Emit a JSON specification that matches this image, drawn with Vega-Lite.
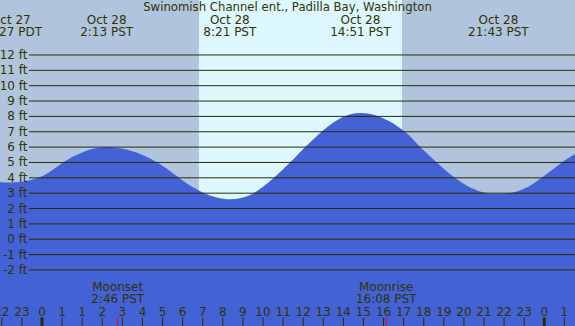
{
  "$schema": "https://vega.github.io/schema/vega-lite/v6.json",
  "width": 575,
  "height": 326,
  "padding": 0,
  "autosize": {"type": "none"},
  "background": "#b0c4de",
  "config": {"view": {"stroke": null}, "axis": {"disable": true}, "text": {"font": "DejaVu Sans", "fontSize": 12, "color": "#333300"}},
  "datasets": {
    "light": [
      {"start": -2.2, "end": 7.81, "phase": "night"},
      {"start": 7.81, "end": 17.92, "phase": "day"},
      {"start": 17.92, "end": 26.7, "phase": "night"}
    ],
    "tide": [
      {"t": -2.2, "h": 3.72}, {"t": -1.55, "h": 3.7}, {"t": -1.0, "h": 3.75}, {"t": -0.5, "h": 3.88},
      {"t": 0.0, "h": 4.1}, {"t": 0.5, "h": 4.5}, {"t": 1.0, "h": 4.95}, {"t": 1.5, "h": 5.35},
      {"t": 2.0, "h": 5.65}, {"t": 2.5, "h": 5.87}, {"t": 3.22, "h": 6.0}, {"t": 3.7, "h": 5.96},
      {"t": 4.2, "h": 5.85}, {"t": 4.7, "h": 5.65}, {"t": 5.2, "h": 5.38}, {"t": 5.7, "h": 5.03},
      {"t": 6.2, "h": 4.6}, {"t": 6.7, "h": 4.12}, {"t": 7.2, "h": 3.65}, {"t": 7.7, "h": 3.25},
      {"t": 8.2, "h": 2.93}, {"t": 8.7, "h": 2.72}, {"t": 9.35, "h": 2.6}, {"t": 9.9, "h": 2.68},
      {"t": 10.5, "h": 2.98}, {"t": 11.0, "h": 3.42}, {"t": 11.5, "h": 3.95}, {"t": 12.0, "h": 4.55},
      {"t": 12.5, "h": 5.2}, {"t": 13.0, "h": 5.88}, {"t": 13.5, "h": 6.5}, {"t": 14.0, "h": 7.1},
      {"t": 14.5, "h": 7.6}, {"t": 15.0, "h": 7.98}, {"t": 15.4, "h": 8.16}, {"t": 15.85, "h": 8.22},
      {"t": 16.3, "h": 8.17}, {"t": 16.8, "h": 7.98}, {"t": 17.3, "h": 7.68}, {"t": 17.7, "h": 7.35},
      {"t": 18.07, "h": 7.0}, {"t": 18.45, "h": 6.52}, {"t": 18.82, "h": 6.0}, {"t": 19.25, "h": 5.48},
      {"t": 19.65, "h": 5.0}, {"t": 20.1, "h": 4.48}, {"t": 20.56, "h": 4.0}, {"t": 21.2, "h": 3.45},
      {"t": 21.89, "h": 3.07}, {"t": 22.3, "h": 2.98}, {"t": 22.7, "h": 2.97}, {"t": 23.1, "h": 2.99},
      {"t": 23.55, "h": 3.08}, {"t": 24.2, "h": 3.42}, {"t": 24.87, "h": 4.0}, {"t": 25.4, "h": 4.52},
      {"t": 25.87, "h": 5.0}, {"t": 26.7, "h": 5.68}
    ],
    "levels": [
      {"v": 12, "label": "12 ft"}, {"v": 11, "label": "11 ft"}, {"v": 10, "label": "10 ft"},
      {"v": 9, "label": "9 ft"}, {"v": 8, "label": "8 ft"}, {"v": 7, "label": "7 ft"},
      {"v": 6, "label": "6 ft"}, {"v": 5, "label": "5 ft"}, {"v": 4, "label": "4 ft"},
      {"v": 3, "label": "3 ft"}, {"v": 2, "label": "2 ft"}, {"v": 1, "label": "1 ft"},
      {"v": 0, "label": "0 ft"}, {"v": -1, "label": "-1 ft"}, {"v": -2, "label": "-2 ft"}
    ],
    "extremes": [
      {"t": -1.55, "label": "Oct 27\n22:27 PDT"},
      {"t": 3.217, "label": "Oct 28\n2:13 PST"},
      {"t": 9.35, "label": "Oct 28\n8:21 PST"},
      {"t": 15.85, "label": "Oct 28\n14:51 PST"},
      {"t": 22.717, "label": "Oct 28\n21:43 PST"}
    ],
    "hours": [
      {"t": -2, "label": "22"}, {"t": -1, "label": "23"}, {"t": 0, "label": "0"}, {"t": 1, "label": "1"},
      {"t": 2, "label": "1"}, {"t": 3, "label": "2"}, {"t": 4, "label": "3"}, {"t": 5, "label": "4"},
      {"t": 6, "label": "5"}, {"t": 7, "label": "6"}, {"t": 8, "label": "7"}, {"t": 9, "label": "8"},
      {"t": 10, "label": "9"}, {"t": 11, "label": "10"}, {"t": 12, "label": "11"}, {"t": 13, "label": "12"},
      {"t": 14, "label": "13"}, {"t": 15, "label": "14"}, {"t": 16, "label": "15"}, {"t": 17, "label": "16"},
      {"t": 18, "label": "17"}, {"t": 19, "label": "18"}, {"t": 20, "label": "19"}, {"t": 21, "label": "20"},
      {"t": 22, "label": "21"}, {"t": 23, "label": "22"}, {"t": 24, "label": "23"}, {"t": 25, "label": "0"},
      {"t": 26, "label": "1"}
    ],
    "moon": [
      {"t": 3.767, "label": "Moonset\n2:46 PST"},
      {"t": 17.133, "label": "Moonrise\n16:08 PST"}
    ],
    "title": [
      {"t": 12.22, "text": "Swinomish Channel ent., Padilla Bay, Washington"}
    ]
  },
  "resolve": {"scale": {"x": "shared", "y": "shared"}},
  "layer": [
    {
      "data": {"name": "light"},
      "mark": {"type": "rect"},
      "encoding": {
        "x": {"field": "start", "type": "quantitative", "scale": {"domain": [-2.09, 26.53], "nice": false, "zero": false}, "axis": null},
        "x2": {"field": "end"},
        "color": {"field": "phase", "type": "nominal", "scale": {"domain": ["night", "day"], "range": ["#b0c4de", "#ddf7fe"]}, "legend": null}
      }
    },
    {
      "data": {"name": "tide"},
      "mark": {"type": "area", "interpolate": "catmull-rom", "color": "#4262d6", "clip": true},
      "encoding": {
        "x": {"field": "t", "type": "quantitative"},
        "y": {"field": "h", "type": "quantitative", "scale": {"domain": [-5.65, 15.58], "nice": false, "zero": false}, "axis": null},
        "y2": {"datum": -5.7}
      }
    },
    {
      "data": {"name": "levels"},
      "mark": {"type": "rule", "color": "#2b2b00", "strokeWidth": 1},
      "encoding": {
        "x": {"datum": -0.65},
        "x2": {"datum": 26.7},
        "y": {"field": "v", "type": "quantitative"}
      }
    },
    {
      "data": {"name": "levels"},
      "mark": {"type": "text", "align": "right", "baseline": "middle"},
      "encoding": {
        "x": {"datum": -0.72},
        "y": {"field": "v", "type": "quantitative"},
        "text": {"field": "label"}
      }
    },
    {
      "data": {"name": "extremes"},
      "mark": {"type": "text", "align": "center", "baseline": "middle", "lineBreak": "\n", "lineHeight": 12},
      "encoding": {
        "x": {"field": "t", "type": "quantitative"},
        "y": {"datum": 14.3},
        "text": {"field": "label"}
      }
    },
    {
      "data": {"name": "title"},
      "mark": {"type": "text", "align": "center", "baseline": "middle", "fontSize": 11.7},
      "encoding": {
        "x": {"field": "t", "type": "quantitative"},
        "y": {"datum": 15.15},
        "text": {"field": "text"}
      }
    },
    {
      "data": {"name": "hours"},
      "mark": {"type": "rule", "color": "#2b2b00", "strokeWidth": 1},
      "encoding": {
        "x": {"field": "t", "type": "quantitative"},
        "y": {"datum": -5.1},
        "y2": {"datum": -5.7}
      }
    },
    {
      "data": {"name": "hours"},
      "transform": [{"filter": "datum.label == '0'"}],
      "mark": {"type": "rule", "color": "#2b2b00", "strokeWidth": 3},
      "encoding": {
        "x": {"field": "t", "type": "quantitative"},
        "y": {"datum": -5.1},
        "y2": {"datum": -5.7}
      }
    },
    {
      "data": {"name": "hours"},
      "mark": {"type": "text", "align": "center", "baseline": "middle"},
      "encoding": {
        "x": {"field": "t", "type": "quantitative"},
        "y": {"datum": -4.72},
        "text": {"field": "label"}
      }
    },
    {
      "data": {"name": "moon"},
      "mark": {"type": "rule", "color": "#ff0000", "strokeWidth": 1},
      "encoding": {
        "x": {"field": "t", "type": "quantitative"},
        "y": {"datum": -5.1},
        "y2": {"datum": -5.7}
      }
    },
    {
      "data": {"name": "moon"},
      "mark": {"type": "text", "align": "center", "baseline": "middle", "lineBreak": "\n", "lineHeight": 12},
      "encoding": {
        "x": {"field": "t", "type": "quantitative"},
        "y": {"datum": -3.08},
        "text": {"field": "label"}
      }
    }
  ]
}
